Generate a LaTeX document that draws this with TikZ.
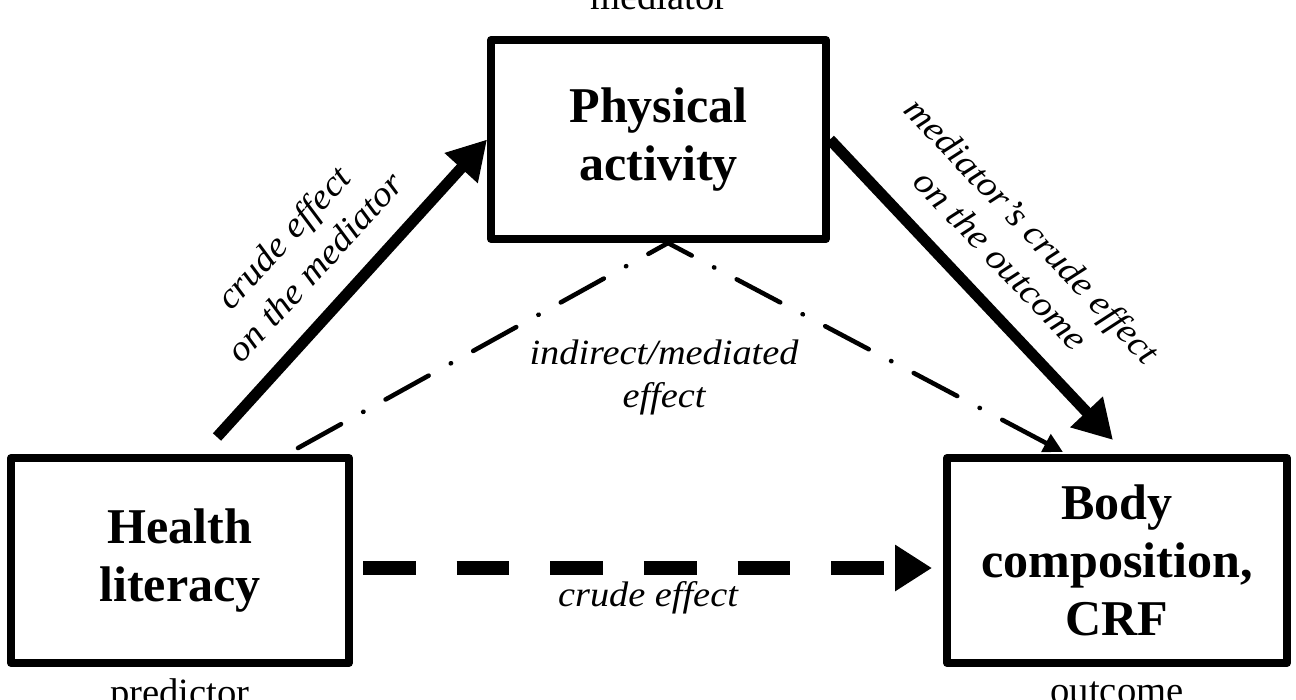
\documentclass[tikz,border=0pt]{standalone}
\usepackage{fontspec}
\setmainfont{Liberation Serif}
\newfontfamily\labfont[FakeStretch=1.08]{Liberation Serif}
\usetikzlibrary{arrows.meta}
\tikzset{
  box/.style={draw, line width=4.5pt, line join=round, align=center,
    font=\fontsize{28.5}{33}\selectfont\bfseries, inner sep=0pt},
  lab/.style={align=center, font=\labfont\itshape\fontsize{20.2}{24.5}\selectfont},
  role/.style={anchor=base, font=\fontsize{22}{26}\selectfont},
  solidarrow/.style={line width=6.3pt, -{Triangle[length=22pt,width=24pt]}},
  dashdotline/.style={line width=2.6pt, line cap=round,
    dash pattern=on 28pt off 14.4pt on 0.2pt off 14.4pt,
    -{Triangle[length=11pt,width=11pt]}},
  thickdash/.style={line width=8pt, dash pattern=on 30pt off 23.3pt,
    -{Triangle[length=21pt,width=25pt]}}
}
\begin{document}
\begin{tikzpicture}[x=0.02cm,y=-0.02cm]
\useasboundingbox (0,0) rectangle (1296,700);
% boxes
\node[box, minimum width=6.7cm, minimum height=3.98cm] (pa) at (658.5,139.5) {Physical\\activity};
\node[box, minimum width=6.76cm, minimum height=4.1cm] (hl) at (180,560.5) {Health\\literacy};
\node[box, minimum width=6.8cm, minimum height=4.1cm] (bc) at (1117,560.5) {Body\\composition,\\CRF};
% role labels
\node[role] (rm) at (659,9) {mediator};
\node[role] (rp) at (180,705) {predictor};
\node[role] (ro) at (1117,703) {outcome};
% connector end points
\coordinate (a1) at (217,437);
\coordinate (a2) at (1113,440);
\coordinate (d1) at (298,448);
\coordinate (d2) at (668,243);
\coordinate (d3) at (1063,452);
\coordinate (c1) at (363,568);
\coordinate (c2) at (932,568);
% connectors
\draw[solidarrow] (a1) -- (pa.west);
\draw[solidarrow] (pa.east) -- (a2);
\draw[dashdotline] (d1) -- (d2) -- (d3);
\draw[thickdash] (c1) -- (c2);
% labels
\node[lab, rotate=47.4] (l1) at (299,252) {crude effect\\on the mediator};
\node[lab, rotate=-46.4] (l2) at (1017,245) {mediator’s crude effect\\on the outcome};
\node[lab] (l3) at (664,377) {indirect/mediated\\effect};
\node[lab] (l4) at (648,598) {crude effect};
\end{tikzpicture}
\end{document}
